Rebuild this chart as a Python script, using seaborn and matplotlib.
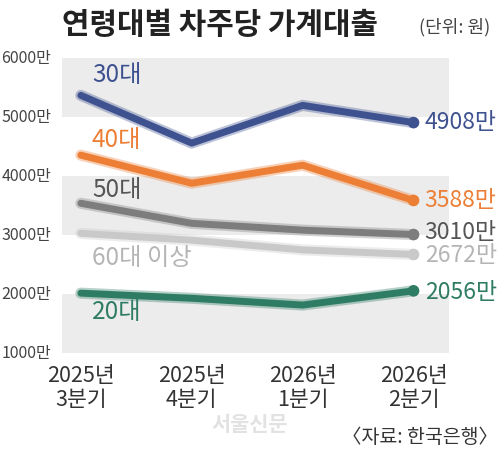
import pandas as pd
import matplotlib.pyplot as plt
import seaborn as sns

quarters = ['2025년\n3분기', '2025년\n4분기', '2026년\n1분기', '2026년\n2분기']
groups = ['30대', '40대', '50대', '60대 이상', '20대']
loans = {
    '30대': [5370, 4560, 5200, 4908],
    '40대': [4356, 3880, 4186, 3588],
    '50대': [3540, 3200, 3085, 3010],
    '60대 이상': [3030, 2915, 2750, 2672],
    '20대': [2017, 1930, 1815, 2056],
}
end_labels = ['4908만', '3588만', '3010만', '2672만', '2056만']
yticks = [1000, 2000, 3000, 4000, 5000, 6000]
ytick_labels = [f'{v}만' for v in yticks]

colors = {'30대': '#3f5290', '40대': '#ec7f35', '50대': '#7d7d7d',
          '60대 이상': '#c9c9c9', '20대': '#2f7c64'}
label_text_colors = {'30대': '#3f5290', '40대': '#ec7f35', '50대': '#555555',
                     '60대 이상': '#b5b5b5', '20대': '#2f7c64'}

rows = []
for g in groups:
    for i, v in enumerate(loans[g]):
        rows.append({'group': g, 'x': i, 'value': v})
df = pd.DataFrame(rows)

sns.set_style('white')
plt.rcParams['font.family'] = ['Noto Sans CJK KR', 'DejaVu Sans']

fig = plt.figure(figsize=(5, 4.51), dpi=100)
ax = fig.add_axes([0.124, 0.217, 0.774, 0.654])

# alternating background bands
for lo in [1000, 3000, 5000]:
    ax.axhspan(lo, lo + 1000, color='#ececec', lw=0, zorder=0)

# soft halo under each line, then the line itself
sns.lineplot(data=df, x='x', y='value', hue='group', palette=colors,
             linewidth=8, alpha=0.35, legend=False, ax=ax, zorder=2)
sns.lineplot(data=df, x='x', y='value', hue='group', palette=colors,
             linewidth=5, legend=False, ax=ax, zorder=3)

last = df[df['x'] == 3]
sns.scatterplot(data=last, x='x', y='value', hue='group', palette=colors,
                s=70, edgecolor='none', legend=False, ax=ax, zorder=4)

ax.set_xlim(-0.17, 3.32)
ax.set_ylim(1000, 6000)
ax.set_xticks(range(4))
ax.set_xticklabels(quarters, fontsize=15.5, color='#333333', linespacing=1.1)
ax.set_yticks(yticks)
ax.set_yticklabels([])
ax.tick_params(axis='x', length=5, width=1, color='#555555', direction='inout', pad=6)
ax.tick_params(axis='y', length=0)
ax.set_xlabel('')
ax.set_ylabel('')
for s in ax.spines.values():
    s.set_visible(False)

# y labels sit at the far left of the figure
to_fig = fig.transFigure.inverted()
for v, lab in zip(yticks, ytick_labels):
    y_fig = to_fig.transform(ax.transData.transform((0, v)))[1]
    fig.text(0.102, y_fig, lab, ha='right', va='center', fontsize=11.5, color='#444444')

# series labels
label_pos = {'30대': 5710, '40대': 4610, '50대': 3765, '60대 이상': 2610, '20대': 1695}
for g in groups:
    ax.text(0.10, label_pos[g], g, ha='left', va='center', fontsize=17.5,
            color=label_text_colors[g])

# end value labels
end_pos = [4915, 3593, 3050, 2660, 2034]
for g, lab, y in zip(groups, end_labels, end_pos):
    ax.text(3.1, y, lab, ha='left', va='center', fontsize=16.5,
            color=label_text_colors[g], clip_on=False)

fig.text(0.124, 0.945, '연령대별 차주당 가계대출', fontsize=21.5, fontweight='bold',
         color='#222222', va='center', ha='left')
fig.text(0.98, 0.94, '(단위: 원)', fontsize=13, color='#444444', va='center', ha='right')
fig.text(0.995, 0.03, '〈자료: 한국은행〉', fontsize=14, color='#333333', va='center', ha='right')
fig.text(0.50, 0.058, '서울신문', fontsize=15, color='#d0d0d0', alpha=0.6,
         ha='center', va='center', fontweight='bold')

fig.savefig('out.png', dpi=100)
